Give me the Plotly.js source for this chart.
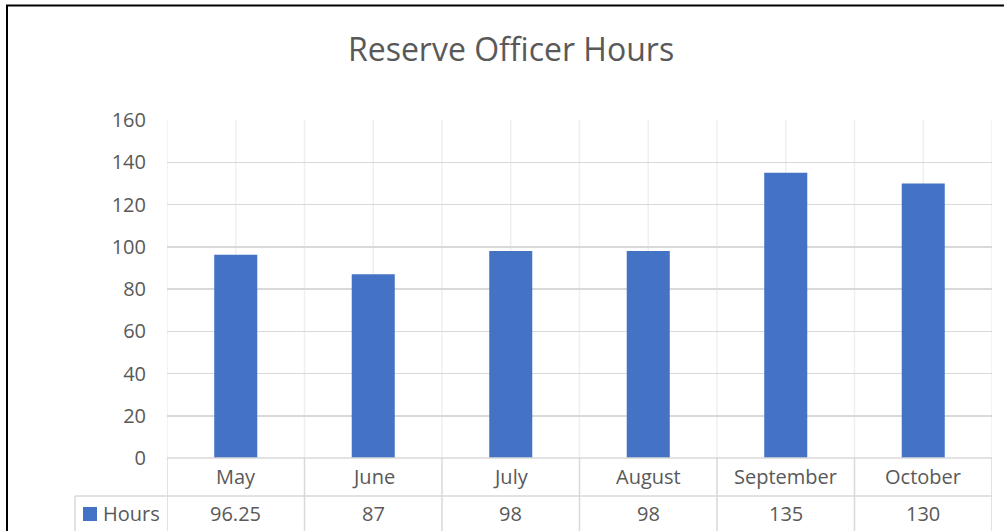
<!DOCTYPE html>
<html>
<head>
<meta charset="utf-8">
<script src="https://cdn.plot.ly/plotly-3.0.1.min.js"></script>
<style>
  html, body { margin: 0; padding: 0; background: #fff; }
  #chart { width: 1004px; height: 531px; }
</style>
</head>
<body>
<div id="chart"></div>
<script>
const months = ["May", "June", "July", "August", "September", "October"];
const hours = [96.25, 87, 98, 98, 135, 130];
const valueLabels = ["96.25", "87", "98", "98", "135", "130"];
const seriesName = "Hours";
const titleText = "Reserve Officer Hours";

const W = 1004, H = 531;
const mL = 167, mR = 12, mT = 120, mB = 73;
const pw = W - mL - mR, ph = H - mT - mB;
const px = v => (v - mL) / pw;           // pixel x -> paper x
const py = v => 1 - (v - mT) / ph;       // pixel y -> paper y

const txt = "#595959";
const tableLine = "#d9d9d9";
const gridV = "#efefef";
const font = "Open Sans, sans-serif";

const shapes = [];
const annotations = [];
const n = months.length;

// light vertical gridlines in plot area at every half category
for (let k = 0; k <= 2 * n; k++) {
  const xv = -0.5 + k * 0.5;
  shapes.push({type: "line", xref: "x", yref: "paper", x0: xv, x1: xv, y0: 0, y1: 1,
    line: {color: gridV, width: 1.5}, layer: "below"});
}
// table vertical lines at category boundaries
for (let k = 0; k <= n; k++) {
  const xv = -0.5 + k;
  shapes.push({type: "line", xref: "x", yref: "paper", x0: xv, x1: xv, y0: 0, y1: py(540),
    line: {color: tableLine, width: 1.5}});
}
// table horizontal lines
shapes.push({type: "line", xref: "x", yref: "paper", x0: -0.5, x1: n - 0.5, y0: 0, y1: 0,
  line: {color: tableLine, width: 1.5}});
shapes.push({type: "line", xref: "paper", yref: "paper", x0: px(75), x1: 1, y0: py(496), y1: py(496),
  line: {color: tableLine, width: 1.5}});
shapes.push({type: "line", xref: "paper", yref: "paper", x0: px(75), x1: px(75), y0: py(496), y1: py(540),
  line: {color: tableLine, width: 1.5}});
// legend key square
shapes.push({type: "rect", xref: "paper", yref: "paper", x0: px(83), x1: px(97), y0: py(507), y1: py(521),
  fillcolor: "#4472c4", line: {width: 0}});
// outer black border (top and left)
shapes.push({type: "line", xref: "paper", yref: "paper", x0: px(6), x1: px(1010), y0: py(5.5), y1: py(5.5),
  line: {color: "#000", width: 2}});
shapes.push({type: "line", xref: "paper", yref: "paper", x0: px(7), x1: px(7), y0: py(5), y1: py(540),
  line: {color: "#000", width: 2}});

// table text
months.forEach((m, i) => {
  annotations.push({xref: "x", yref: "paper", x: m, y: py(476), text: m, showarrow: false,
    xanchor: "center", yanchor: "middle", font: {family: font, size: 20, color: txt}});
  annotations.push({xref: "x", yref: "paper", x: m, y: py(513), text: valueLabels[i], showarrow: false,
    xanchor: "center", yanchor: "middle", font: {family: font, size: 20, color: txt}});
});
annotations.push({xref: "paper", yref: "paper", x: px(101), y: py(513), text: seriesName, showarrow: false,
  xanchor: "left", yanchor: "middle", font: {family: font, size: 20, color: txt}});

const data = [{
  type: "bar", x: months, y: hours, name: seriesName,
  marker: {color: "#4472c4"}, hoverinfo: "x+y"
}];

const layout = {
  width: W, height: H,
  margin: {l: mL, r: mR, t: mT, b: mB, pad: 0},
  paper_bgcolor: "#fff", plot_bgcolor: "rgba(0,0,0,0)",
  showlegend: false,
  bargap: 0.687,
  title: {text: titleText, xref: "container", yref: "container", x: 0.509, xanchor: "center",
    y: 1 - 50 / H, yanchor: "middle", font: {family: font, size: 32, color: txt}},
  xaxis: {type: "category", range: [-0.5, n - 0.5], showticklabels: false, showgrid: false,
    zeroline: false, showline: false, ticks: "", fixedrange: true},
  yaxis: {range: [0, 160], dtick: 20, tick0: 0, showgrid: true, gridcolor: tableLine, gridwidth: 1.5,
    zeroline: false, showline: false, ticks: "", ticklabelstandoff: 20,
    tickfont: {family: font, size: 20, color: txt}, fixedrange: true},
  shapes: shapes,
  annotations: annotations
};

Plotly.newPlot("chart", data, layout, {displayModeBar: false, staticPlot: true});
</script>
</body>
</html>
